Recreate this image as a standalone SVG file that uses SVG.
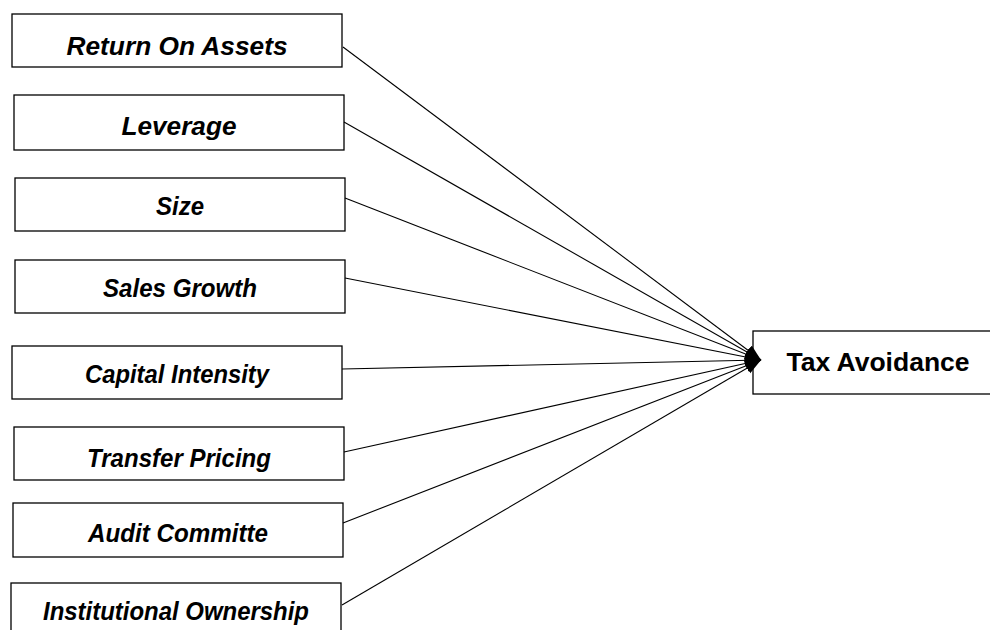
<svg xmlns="http://www.w3.org/2000/svg" width="990" height="630" viewBox="0 0 990 630">
<style>
.box{fill:#fff;stroke:#000;stroke-width:1.3}
.lbl{font-family:"Liberation Sans",Arial,sans-serif;font-weight:bold;font-style:italic;font-size:26px;text-anchor:middle;fill:#000}
.tgt{font-family:"Liberation Sans",Arial,sans-serif;font-weight:bold;font-size:26.5px;text-anchor:middle;fill:#000}
.conn{stroke:#000;stroke-width:1.1;fill:none;marker-end:url(#arr)}
</style>
<defs>
<marker id="arr" markerUnits="userSpaceOnUse" markerWidth="18" markerHeight="14" refX="16" refY="6" orient="auto">
<path d="M0,0 L16,6 L0,12 Z" fill="#000"/>
</marker>
</defs>
<rect width="990" height="630" fill="#fff"/>
<g id="n1"><rect class="box" x="12" y="14" width="330" height="53"/><text class="lbl" x="177" y="55" textLength="221" lengthAdjust="spacingAndGlyphs">Return On Assets</text></g>
<g id="n2"><rect class="box" x="14" y="95" width="330" height="55"/><text class="lbl" x="179" y="135" textLength="115" lengthAdjust="spacingAndGlyphs">Leverage</text></g>
<g id="n3"><rect class="box" x="15" y="178" width="330" height="53"/><text class="lbl" x="180" y="215" textLength="48" lengthAdjust="spacingAndGlyphs">Size</text></g>
<g id="n4"><rect class="box" x="15" y="260" width="330" height="53"/><text class="lbl" x="180" y="297" textLength="154" lengthAdjust="spacingAndGlyphs">Sales Growth</text></g>
<g id="n5"><rect class="box" x="12" y="346" width="330" height="53"/><text class="lbl" x="177" y="383" textLength="184" lengthAdjust="spacingAndGlyphs">Capital Intensity</text></g>
<g id="n6"><rect class="box" x="14" y="427" width="330" height="53"/><text class="lbl" x="179" y="467" textLength="184" lengthAdjust="spacingAndGlyphs">Transfer Pricing</text></g>
<g id="n7"><rect class="box" x="13" y="503" width="330" height="54"/><text class="lbl" x="178" y="542" textLength="180" lengthAdjust="spacingAndGlyphs">Audit Committe</text></g>
<g id="n8"><rect class="box" x="11" y="583" width="330" height="60"/><text class="lbl" x="176" y="620" textLength="266" lengthAdjust="spacingAndGlyphs">Institutional Ownership</text></g>
<g id="target"><rect class="box" x="753" y="331" width="260" height="63"/><text class="tgt" x="878" y="371">Tax Avoidance</text></g>
<g id="connectors">
<line class="conn" x1="343" y1="47" x2="761" y2="360"/>
<line class="conn" x1="344" y1="122" x2="761" y2="360"/>
<line class="conn" x1="345" y1="198" x2="761" y2="360"/>
<line class="conn" x1="345" y1="278" x2="761" y2="360"/>
<line class="conn" x1="342" y1="369" x2="761" y2="360"/>
<line class="conn" x1="344" y1="452" x2="761" y2="360"/>
<line class="conn" x1="343" y1="523" x2="761" y2="360"/>
<line class="conn" x1="342" y1="605" x2="761" y2="360"/>
</g>
</svg>
